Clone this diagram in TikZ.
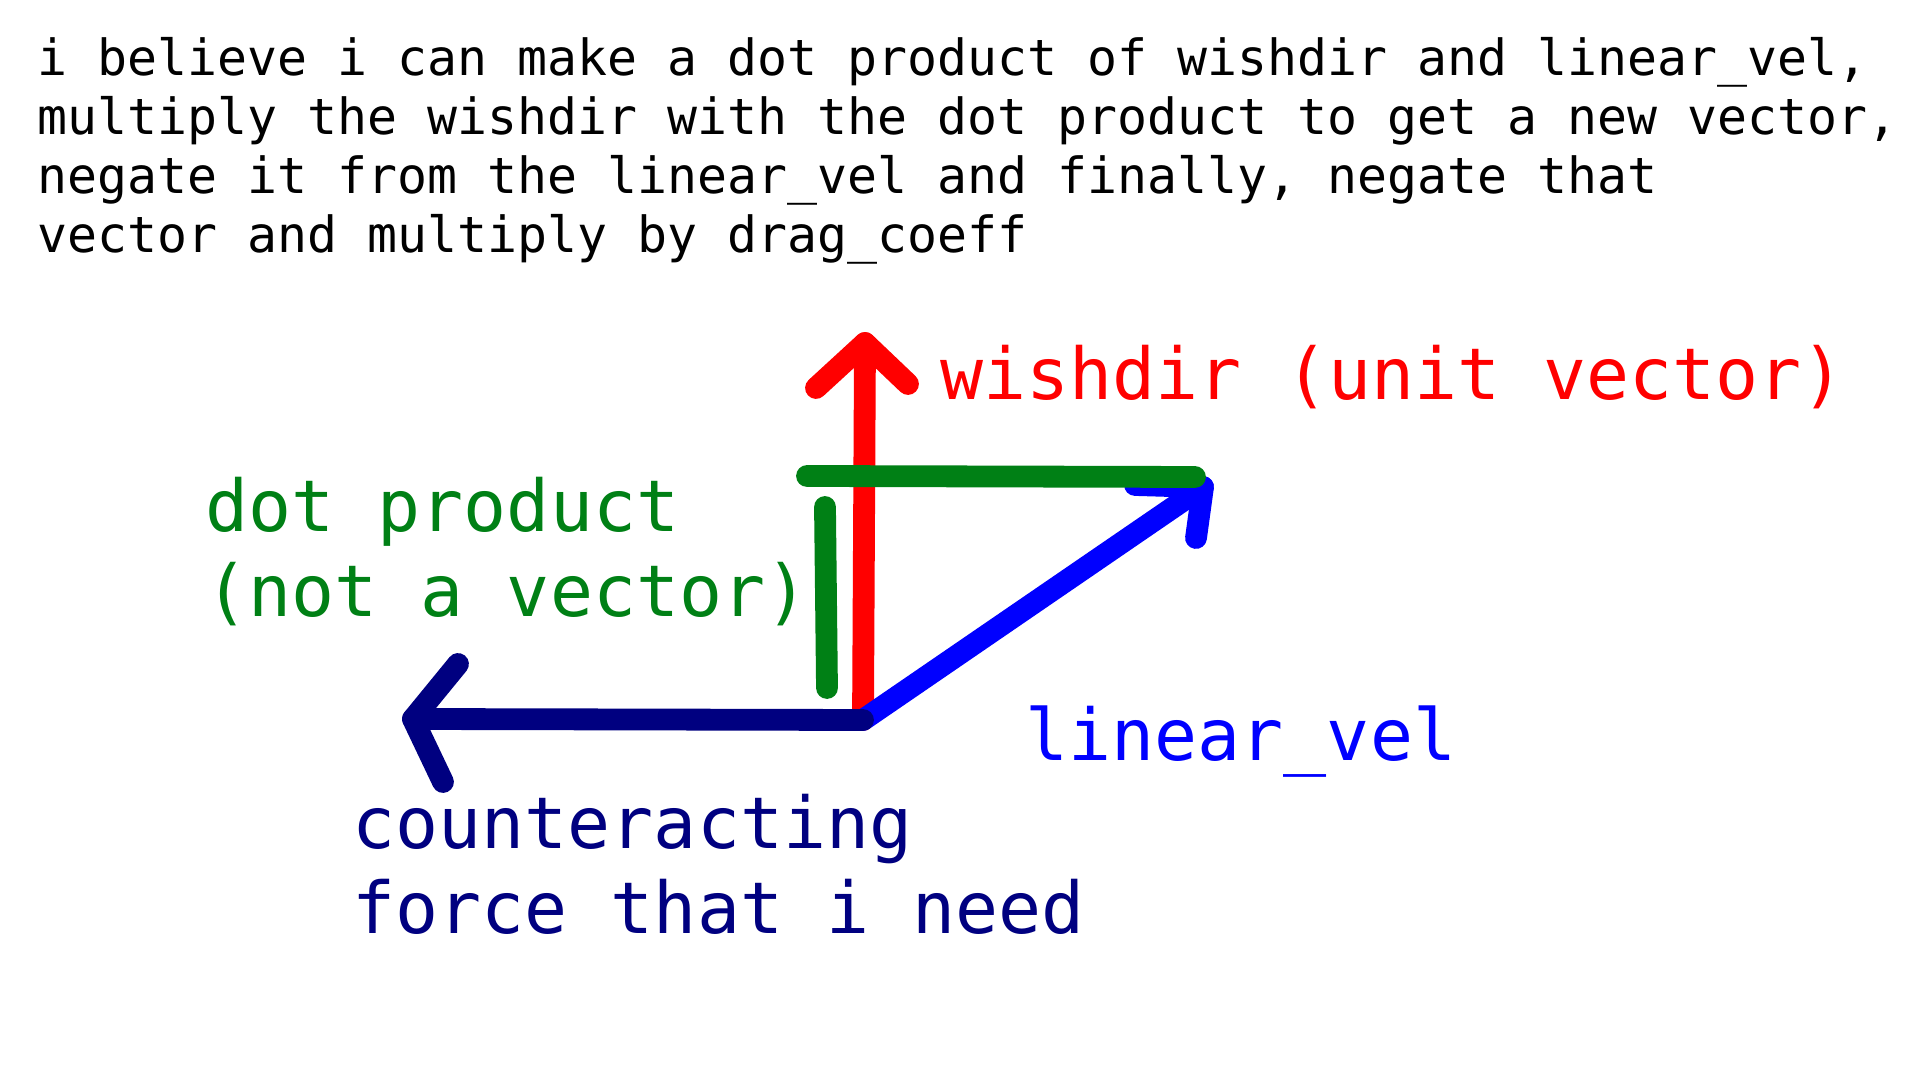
\documentclass[tikz,border=0pt]{standalone}
\usepackage{fontspec}
\setmainfont{DejaVu Sans Mono}

\definecolor{wishred}{RGB}{255,0,0}
\definecolor{dotgreen}{RGB}{0,128,21}
\definecolor{velblue}{RGB}{0,0,255}
\definecolor{forcenavy}{RGB}{0,0,128}

\begin{document}
\begin{tikzpicture}[x=0.01cm, y=-0.01cm,
    vecline/.style={line width=6.2pt, line cap=round, line join=round},
    notetext/.style={inner sep=0pt, anchor=base west, align=left, font=\fontsize{14.17}{16.8}\selectfont},
    veclabel/.style={inner sep=0pt, anchor=base west, align=left, font=\fontsize{20.33}{24.2}\selectfont}]
    \useasboundingbox (0,0) rectangle (1920,1080);

    % the question on top (base = last line)
    \node[notetext] (question) at (37,253) {i believe i can make a dot product of wishdir and linear\_vel,\\
        multiply the wishdir with the dot product to get a new vector,\\
        negate it from the linear\_vel and finally, negate that\\
        vector and multiply by drag\_coeff};

    % all vectors start here
    \coordinate (o) at (863,720);
    \coordinate (wishtip) at (865,343); \coordinate (wishL) at (816,388); \coordinate (wishR) at (908,384);
    \coordinate (veltip) at (1203,487); \coordinate (velL) at (1135,485); \coordinate (velR) at (1196,538);
    \coordinate (forcetip) at (413,719); \coordinate (forceU) at (458,664); \coordinate (forceD) at (443,782);
    \coordinate (projA) at (807,476); \coordinate (projB) at (1195,477);
    \coordinate (dotA) at (825,507); \coordinate (dotB) at (827,688);

    % wishdir
    \draw[vecline, wishred] (o) -- (wishtip);
    \draw[vecline, wishred] (wishL) -- (wishtip) -- (wishR);
    % linear_vel
    \draw[vecline, velblue] (o) -- (veltip);
    \draw[vecline, velblue] (velL) -- (veltip) -- (velR);
    % projection onto wishdir and its length
    \draw[vecline, dotgreen] (projA) -- (projB);
    \draw[vecline, dotgreen] (dotA) -- (dotB);
    % counteracting force
    \draw[vecline, forcenavy] (o) -- (forcetip);
    \draw[vecline, forcenavy] (forceU) -- (forcetip) -- (forceD);

    \node[veclabel, wishred] (wishlbl) at (940,400) {wishdir (unit vector)};
    \node[veclabel, velblue] (vellbl) at (1025,761) {linear\_vel};
    \node[veclabel, dotgreen] (dotlbl) at (205,617) {dot product\\(not a vector)};
    \node[veclabel, forcenavy] (forcelbl) at (352,934) {counteracting\\force that i need};
\end{tikzpicture}
\end{document}
